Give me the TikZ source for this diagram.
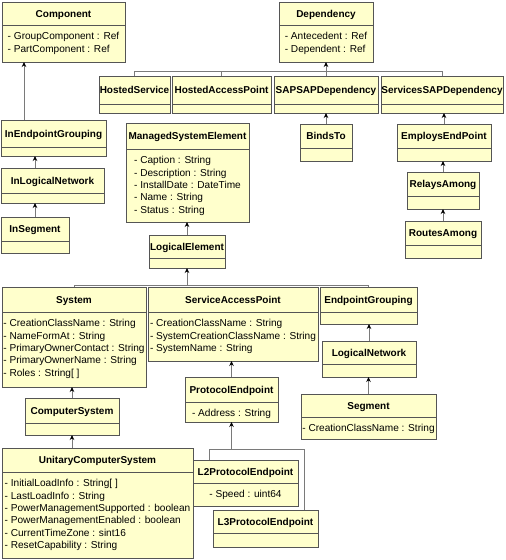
\documentclass[tikz,border=0pt]{standalone}
\usepackage{fontspec}
\setmainfont{Liberation Sans}
\usepackage{xcolor}
\usetikzlibrary{arrows.meta}

\definecolor{classfill}{HTML}{FFFFCC}
\definecolor{classborder}{HTML}{555555}
\definecolor{wiregray}{HTML}{7A7A7A}

\tikzset{
  classbox/.style={draw=classborder, fill=classfill, line width=0.8pt, inner sep=0pt, outer sep=0pt},
  classline/.style={draw=classborder, line width=0.8pt},
  classtitle/.style={anchor=base, inner sep=0pt, font=\bfseries\fontsize{10}{12}\selectfont},
  classattr/.style={anchor=north, inner sep=0pt, align=left, font=\fontsize{10.1}{12.4}\selectfont},
  wire/.style={draw=wiregray, line width=0.8pt},
  inherit/.style={wire, -{Stealth[length=5pt, width=4.5pt, black]}}
}

% name, left, top, right, divider, bottom, title, attributes
\newcommand{\umlclass}[8]{%
  \node[classbox, anchor=north west, minimum width={(#4-#2)*1pt}, minimum height={(#6-#3)*1pt}] (#1) at (#2,#3) {};
  \draw[classline] (#2,#5) -- (#4,#5);
  \node[classtitle] at ({(#2+#4)/2},{(#3+#5)/2+3.6}) {#7};
  \node[classattr] at ({(#2+#4)/2},{#5+7.2}) {#8};
}

\begin{document}
\begin{tikzpicture}[x=1pt, y=-1pt]
    \useasboundingbox (0,0) rectangle (506,560);
    %
    \umlclass{Component}{2}{2}{125}{25}{62}{Component}{- GroupComponent : Ref\\- PartComponent : Ref}
    \umlclass{Dependency}{279}{2}{373}{25}{62}{Dependency}{- Antecedent : Ref\\- Dependent : Ref}
    \umlclass{HostedService}{99}{76}{170}{104}{113}{HostedService}{}
    \umlclass{HostedAccessPoint}{172}{76}{271}{104}{113}{HostedAccessPoint}{}
    \umlclass{SAPSAPDependency}{274}{76}{378}{104}{113}{SAPSAPDependency}{}
    \umlclass{ServicesSAPDependency}{381}{76}{503}{104}{113}{ServicesSAPDependency}{}
    %
    \umlclass{InEndpointGrouping}{1}{120}{106}{147}{156}{InEndpointGrouping}{}
    \umlclass{InLogicalNetwork}{1}{168}{104}{193}{203}{InLogicalNetwork}{}
    \umlclass{InSegment}{1}{217}{69}{241}{253}{InSegment}{}
    \umlclass{ManagedSystemElement}{126}{123}{249}{149}{222}{ManagedSystemElement}{- Caption : String\\- Description : String\\- InstallDate : DateTime\\- Name : String\\- Status : String}
    \umlclass{BindsTo}{300}{124}{352}{148}{161}{BindsTo}{}
    \umlclass{EmploysEndPoint}{397}{124}{491}{148}{161}{EmploysEndPoint}{}
    \umlclass{RelaysAmong}{407}{172}{479}{196}{209}{RelaysAmong}{}
    \umlclass{RoutesAmong}{405}{221}{481}{245}{258}{RoutesAmong}{}
    \umlclass{LogicalElement}{149}{235}{225}{258}{268}{LogicalElement}{}
    %
    \umlclass{System}{2}{287}{146}{312}{387}{System}{- CreationClassName : String\\- NameFormAt : String\\- PrimaryOwnerContact : String\\- PrimaryOwnerName : String\\- Roles : String[ ]}
    \umlclass{ServiceAccessPoint}{148}{287}{318}{312}{361}{ServiceAccessPoint}{- CreationClassName : String\\- SystemCreationClassName : String\\- SystemName : String}
    \umlclass{EndpointGrouping}{320}{287}{417}{312}{324}{EndpointGrouping}{}
    \umlclass{LogicalNetwork}{322}{341}{416}{364}{377}{LogicalNetwork}{}
    \umlclass{ProtocolEndpoint}{185}{377}{278}{402}{422}{ProtocolEndpoint}{- Address : String}
    \umlclass{ComputerSystem}{25}{398}{119}{423}{435}{ComputerSystem}{}
    \umlclass{Segment}{301}{394}{436}{417}{439}{Segment}{- CreationClassName : String}
    \umlclass{UnitaryComputerSystem}{2}{448}{193}{472}{558}{UnitaryComputerSystem}{- InitialLoadInfo : String[ ]\\- LastLoadInfo : String\\- PowerManagementSupported : boolean\\- PowerManagementEnabled : boolean\\- CurrentTimeZone : sint16\\- ResetCapability : String}
    \umlclass{L2ProtocolEndpoint}{193}{460}{298}{483}{506}{L2ProtocolEndpoint}{- Speed : uint64}
    \umlclass{L3ProtocolEndpoint}{213}{510}{318}{533}{547}{L3ProtocolEndpoint}{}
    %
    \coordinate (depbus) at (0,71);
    \coordinate (elembus) at (0,285);
    \coordinate (protobus) at (0,449);
    \coordinate (iegtap) at ([xshift=23pt]InEndpointGrouping.north west);
    \coordinate (ltwotap) at ([xshift=16pt]L2ProtocolEndpoint.north west);
    \coordinate (lthreetap) at ([xshift=-14pt]L3ProtocolEndpoint.north east);
    %
    \draw[inherit] (iegtap) -- (iegtap |- Component.south);
    \draw[inherit] (InSegment.north |- InLogicalNetwork.north) -- (InSegment.north |- InEndpointGrouping.south);
    \draw[inherit] (InSegment.north) -- (InSegment.north |- InLogicalNetwork.south);
    %
    \draw[wire] (HostedService.north) -- (HostedService.north |- depbus) -| (ServicesSAPDependency.north);
    \draw[wire] (HostedAccessPoint.north) -- (HostedAccessPoint.north |- depbus);
    \draw[inherit] (SAPSAPDependency.north) -- (SAPSAPDependency.north |- Dependency.south);
    \draw[inherit] (BindsTo.north) -- (BindsTo.north |- SAPSAPDependency.south);
    \draw[inherit] (EmploysEndPoint.north) -- (EmploysEndPoint.north |- ServicesSAPDependency.south);
    \draw[inherit] (RelaysAmong.north) -- (RelaysAmong.north |- EmploysEndPoint.south);
    \draw[inherit] (RoutesAmong.north) -- (RoutesAmong.north |- RelaysAmong.south);
    %
    \draw[inherit] (LogicalElement.north) -- (LogicalElement.north |- ManagedSystemElement.south);
    \draw[wire] (System.north) -- (System.north |- elembus) -| (EndpointGrouping.north);
    \draw[inherit] (LogicalElement.south |- elembus) -- (LogicalElement.south);
    \draw[inherit] (ComputerSystem.north) -- (ComputerSystem.north |- System.south);
    \draw[inherit] (ComputerSystem.south |- UnitaryComputerSystem.north) -- (ComputerSystem.south);
    \draw[inherit] (ProtocolEndpoint.north) -- (ProtocolEndpoint.north |- ServiceAccessPoint.south);
    \draw[wire] (ltwotap) -- (ltwotap |- protobus) -| (lthreetap);
    \draw[inherit] (ProtocolEndpoint.south |- protobus) -- (ProtocolEndpoint.south);
    \draw[inherit] (LogicalNetwork.north) -- (LogicalNetwork.north |- EndpointGrouping.south);
    \draw[inherit] (Segment.north) -- (Segment.north |- LogicalNetwork.south);
\end{tikzpicture}
\end{document}
